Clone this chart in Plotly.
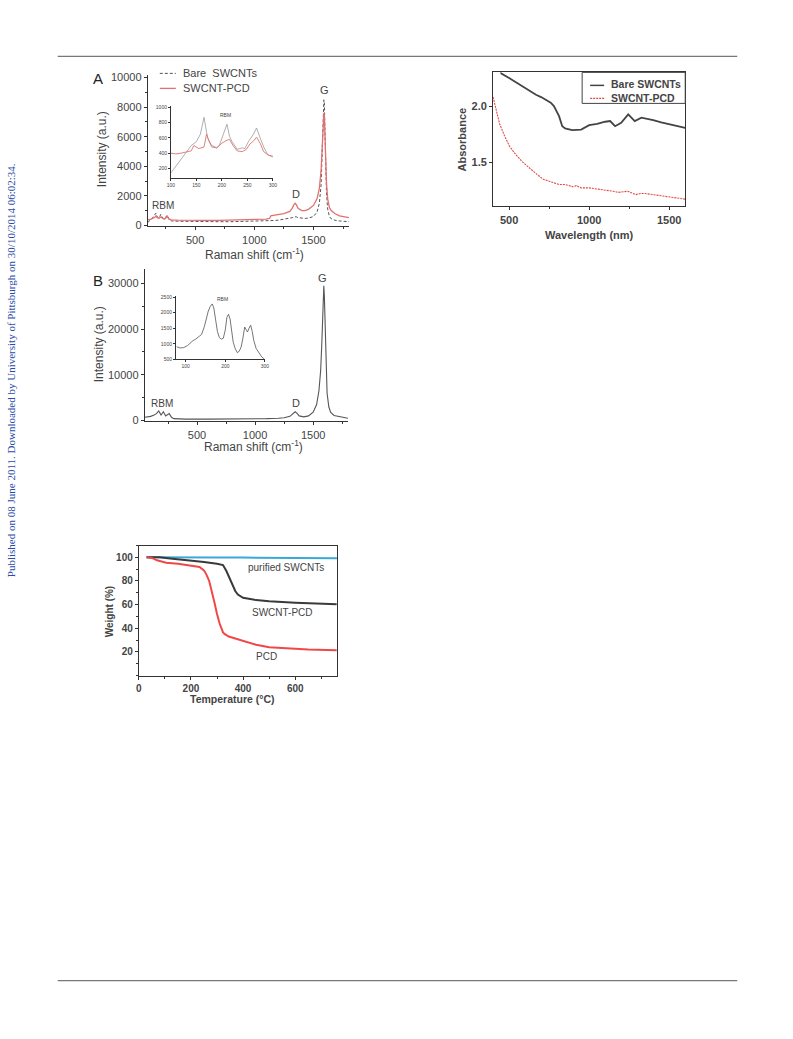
import plotly.graph_objects as go

W, H = 793, 1039

# ---------------- Panel A: Raman (bare vs SWCNT-PCD) ----------------
a_x = [100,120,140,160,170,180,195,210,225,240,255,265,280,300,350,400,500,600,700,800,900,
       1000,1050,1100,1130,1140,1160,1200,1250,1300,1320,1335,1345,1355,1370,1400,1430,1460,
       1500,1530,1550,1565,1575,1582,1588,1592,1597,1603,1610,1620,1635,1650,1680,1720,1760,1800]
a_bare = [200,350,500,750,820,550,500,750,500,450,600,700,400,300,280,270,260,250,250,250,260,
          270,280,300,310,320,330,350,400,460,520,580,600,580,520,480,470,500,
          600,900,1500,2800,4800,7000,8500,8300,6500,4000,2200,1100,600,450,350,300,280,250]
a_pcd = [380,400,480,550,650,520,480,570,480,420,520,600,420,370,350,340,340,340,340,350,360,
         380,400,430,480,650,680,720,800,950,1150,1400,1500,1400,1150,1000,1000,1100,
         1350,1800,2500,3800,5500,7000,7600,7400,6200,4300,2900,1800,1200,1000,800,650,580,520]

# Inset A (RBM region)
ia_x_bare = [100,110,120,130,140,150,158,165,172,180,190,195,205,210,215,220,230,240,245,252,262,268,275,282,290,300]
ia_bare = [140,230,320,420,500,550,650,870,600,480,470,500,700,780,620,550,450,470,460,550,650,730,600,480,380,350]
ia_x_pcd = [100,110,120,130,140,145,155,165,170,175,180,190,200,210,215,222,230,240,248,255,262,268,275,282,292,300]
ia_pcd = [400,390,400,410,430,500,460,480,650,560,500,470,530,570,580,500,430,420,450,520,560,610,530,420,370,360]

# ---------------- Absorbance panel ----------------
ab_x_bare = [440,452,500,523,550,600,650,668,700,760,780,812,832,850,894,950,1000,1050,1100,1131,
             1162,1200,1244,1285,1326,1350,1400,1450,1500,1550,1600]
ab_bare = [2.33,2.29,2.25,2.23,2.20,2.16,2.115,2.10,2.08,2.03,2.00,1.91,1.82,1.80,1.786,1.79,1.83,1.84,1.86,1.866,
           1.82,1.85,1.926,1.866,1.896,1.89,1.875,1.855,1.84,1.82,1.805]
ab_x_pcd = [400,420,441,470,503,540,585,650,709,750,812,850,880,900,920,950,1000,1050,1100,1150,
            1182,1240,1260,1290,1320,1350,1400,1450,1500,1550,1600]
ab_pcd = [2.08,1.97,1.84,1.74,1.64,1.57,1.50,1.42,1.35,1.33,1.30,1.30,1.29,1.28,1.29,1.27,1.27,1.26,1.255,1.24,
          1.23,1.24,1.23,1.21,1.22,1.22,1.21,1.20,1.19,1.18,1.17]

# ---------------- Panel B: Raman ----------------
b_x = [50,100,130,150,170,190,210,230,260,280,300,400,600,800,1000,1100,1200,1250,1300,1330,1345,1360,
       1380,1420,1460,1500,1530,1550,1565,1575,1582,1588,1592,1597,1603,1610,1620,1635,1650,1680,1720,1760,1800]
b_y = [700,900,1200,1500,2100,1200,1900,1000,1500,700,400,300,300,300,350,400,500,600,900,1600,1900,1600,
       1000,800,1000,1800,3500,6500,11000,17000,23000,28500,29500,27000,20000,12000,6000,3000,1800,1100,900,700,500]

ib_x = [77,85,95,105,118,125,135,140,147,152,157,162,167,171,175,180,185,190,195,200,204,208,212,216,
        220,225,230,235,240,244,249,253,256,260,264,268,272,278,285,292,298]
ib_y = [910,870,880,950,1100,1150,1250,1300,1550,1800,2050,2200,2280,2150,1800,1400,1200,1150,1180,1450,1850,1950,1800,1400,
        1050,850,720,760,900,1150,1540,1450,1380,1500,1600,1400,1100,850,700,580,520]

# ---------------- TGA panel ----------------
t_x_swnt = [30,100,200,300,400,500,600,700,760]
t_swnt = [100,100.1,100,99.9,99.8,99.7,99.6,99.4,99.3]
t_x_comp = [30,80,120,200,233,250,300,323,336,350,362,370,380,390,400,450,500,600,700,759]
t_comp = [100,100,99,97.5,96.9,96,94.5,93.5,88.4,82,75.7,71.5,68.5,66.8,65.8,63.8,62.8,61.6,61,60.3]
t_x_pcd = [30,50,70,105,150,182,233,250,259,270,280,290,300,310,323,330,345,370,400,450,500,567,650,759]
t_pcd = [100,99.5,97.5,95.5,94.5,93.5,91.8,89,85.6,80,72,62,52,44,36.5,35,33,31.2,29,26,24,22.9,22,21.3]

FONT = "Liberation Sans, Arial, sans-serif"
AX = "#333333"

# compensation of the slight shrink seen in the rendered page
KX, KY = 1.011, 1.009
CX, CY = 396.5, 519.5

def fx(p):
    return (CX + (p - CX) * KX) / W

def fy(p):
    return 1 - (CY + (p - CY) * KY) / H

def axis(domain, rng, **kw):
    d = dict(domain=domain, range=rng, showline=True, linecolor=AX, linewidth=1,
             ticks="outside", ticklen=3, tickcolor=AX, tickwidth=1,
             showgrid=False, zeroline=False, tickformat="d",
             tickfont=dict(family=FONT, size=11, color="#444"))
    d.update(kw)
    return d

fig = go.Figure()

# Panel A
fig.add_trace(go.Scatter(x=a_x, y=a_bare, mode="lines", line=dict(color="#555", width=1, dash="3px,2px"),
                         xaxis="x", yaxis="y", showlegend=False))
fig.add_trace(go.Scatter(x=a_x, y=a_pcd, mode="lines", line=dict(color="#e37070", width=1.3),
                         xaxis="x", yaxis="y", showlegend=False))
fig.add_trace(go.Scatter(x=ia_x_bare, y=ia_bare, mode="lines", line=dict(color="#9a9a9a", width=0.8),
                         xaxis="x2", yaxis="y2", showlegend=False))
fig.add_trace(go.Scatter(x=ia_x_pcd, y=ia_pcd, mode="lines", line=dict(color="#e37070", width=0.9),
                         xaxis="x2", yaxis="y2", showlegend=False))
# Absorbance
fig.add_trace(go.Scatter(x=ab_x_bare, y=ab_bare, mode="lines", line=dict(color="#444", width=1.8),
                         xaxis="x3", yaxis="y3", showlegend=False))
fig.add_trace(go.Scatter(x=ab_x_pcd, y=ab_pcd, mode="lines", line=dict(color="#e04848", width=1.1, dash="2px,1px"),
                         xaxis="x3", yaxis="y3", showlegend=False))
# Panel B
fig.add_trace(go.Scatter(x=b_x, y=b_y, mode="lines", line=dict(color="#555", width=1.1),
                         xaxis="x4", yaxis="y4", showlegend=False))
fig.add_trace(go.Scatter(x=ib_x, y=ib_y, mode="lines", line=dict(color="#666", width=0.9),
                         xaxis="x5", yaxis="y5", showlegend=False))
# TGA
fig.add_trace(go.Scatter(x=t_x_swnt, y=t_swnt, mode="lines", line=dict(color="#3aa8d8", width=2),
                         xaxis="x6", yaxis="y6", showlegend=False))
fig.add_trace(go.Scatter(x=t_x_comp, y=t_comp, mode="lines", line=dict(color="#3a3a3a", width=2),
                         xaxis="x6", yaxis="y6", showlegend=False))
fig.add_trace(go.Scatter(x=t_x_pcd, y=t_pcd, mode="lines", line=dict(color="#f04848", width=2),
                         xaxis="x6", yaxis="y6", showlegend=False))

small = dict(family=FONT, size=5, color="#444")
boldf = dict(family=FONT, size=11, color="#444", weight="bold")
tgaf = dict(family=FONT, size=10, color="#444", weight="bold")

fig.update_layout(
    width=W, height=H, margin=dict(l=0, r=0, t=0, b=0),
    paper_bgcolor="white", plot_bgcolor="rgba(0,0,0,0)",
    xaxis=axis([fx(148), fx(349)], [100, 1800], anchor="y", dtick=500,
               minor=dict(dtick=250, ticks="outside", ticklen=2, tickcolor=AX)),
    yaxis=axis([fy(227), fy(76)], [-70, 10150], anchor="x", dtick=2000,
               minor=dict(dtick=1000, ticks="outside", ticklen=2, tickcolor=AX)),
    xaxis2=axis([fx(171), fx(273)], [100, 300], anchor="y2", dtick=50, ticklen=2,
                tickfont=small, linewidth=0.7),
    yaxis2=axis([fy(179), fy(107)], [69, 1013], anchor="x2", ticklen=2,
                tickfont=small, linewidth=0.7, tickvals=[200, 400, 600, 800, 1000]),
    xaxis3=axis([fx(493), fx(685)], [400, 1600], anchor="y3", dtick=500, mirror=True,
                tickfont=boldf, minor=dict(dtick=250, ticks="outside", ticklen=2, tickcolor=AX)),
    yaxis3=axis([fy(207), fy(73)], [1.105, 2.30], anchor="x3", tickvals=[1.5, 2.0],
                ticktext=["1.5", "2.0"], mirror=True, tickfont=boldf),
    xaxis4=axis([fx(145), fx(348)], [50, 1800], anchor="y4", dtick=500,
                minor=dict(dtick=250, ticks="outside", ticklen=2, tickcolor=AX)),
    yaxis4=axis([fy(422), fy(270)], [-220, 33060], anchor="x4", dtick=10000,
                minor=dict(dtick=5000, ticks="outside", ticklen=2, tickcolor=AX)),
    xaxis5=axis([fx(176), fx(265)], [75, 300], anchor="y5", ticklen=2,
                tickfont=small, linewidth=0.7, tickvals=[100, 200, 300]),
    yaxis5=axis([fy(360), fy(297)], [500, 2520], anchor="x5", ticklen=2,
                tickfont=small, linewidth=0.7, tickvals=[500, 1000, 1500, 2000, 2500]),
    xaxis6=axis([fx(139), fx(337)], [0, 760], anchor="y6", dtick=200, mirror=True,
                tickfont=tgaf, minor=dict(dtick=100, ticks="outside", ticklen=2, tickcolor=AX)),
    yaxis6=axis([fy(676), fy(546)], [0, 110], anchor="x6", mirror=True,
                tickfont=tgaf, tickvals=[20, 40, 60, 80, 100],
                minor=dict(dtick=10, ticks="outside", ticklen=2, tickcolor=AX)),
)

ann = []
def txt(x, y, s, size=11, xref="paper", yref="paper", color="#444", bold=False, angle=0,
        xanchor="center", yanchor="middle", family=FONT):
    ann.append(dict(x=x, y=y, xref=xref, yref=yref, text=s, showarrow=False, textangle=angle,
                    xanchor=xanchor, yanchor=yanchor,
                    font=dict(family=family, size=size, color=color,
                              weight="bold" if bold else "normal")))

# Panel A texts
txt(fx(98), fy(79), "A", size=15, color="#222")
txt(fx(103), fy(150), "Intensity (a.u.)", size=12, angle=-90)
txt(fx(255), fy(255), "Raman shift (cm<sup>-1</sup>)", size=12)
txt(226, 1350, "RBM", size=10, xref="x", yref="y")
txt(1354, 2100, "D", size=11, xref="x", yref="y")
txt(1592, 9160, "G", size=11, xref="x", yref="y")
txt(208, 905, "RBM", size=5, xref="x2", yref="y2")
txt(fx(181), fy(74), "Bare  SWCNTs", size=11, xanchor="left")
txt(fx(181), fy(89), "SWCNT-PCD", size=11, xanchor="left")

# Absorbance texts
txt(fx(462), fy(140), "Absorbance", size=11, bold=True, angle=-90)
txt(fx(589), fy(236), "Wavelength (nm)", size=11, bold=True)
txt(fx(609), fy(85), "Bare SWCNTs", size=10.5, bold=True, xanchor="left")
txt(fx(609), fy(99), "SWCNT-PCD", size=10.5, bold=True, xanchor="left")

# Panel B texts
txt(fx(98), fy(281), "B", size=15, color="#222")
txt(fx(100), fy(345), "Intensity (a.u.)", size=12, angle=-90)
txt(fx(254), fy(447), "Raman shift (cm<sup>-1</sup>)", size=12)
txt(197, 3720, "RBM", size=10, xref="x4", yref="y4")
txt(1352, 3720, "D", size=11, xref="x4", yref="y4")
txt(1584, 31100, "G", size=11, xref="x4", yref="y4")
txt(192, 2430, "RBM", size=5, xref="x5", yref="y5")

# TGA texts
txt(fx(110), fy(612), "Weight (%)", size=10, bold=True, angle=-90)
txt(fx(233), fy(699), "Temperature (°C)", size=10.5, bold=True)
txt(564, 91.5, "purified SWCNTs", size=10, xref="x6", yref="y6")
txt(552, 53.4, "SWCNT-PCD", size=10, xref="x6", yref="y6")
txt(491, 16, "PCD", size=10, xref="x6", yref="y6")

# Side watermark text
txt(fx(12), fy(371), "Published on 08 June 2011. Downloaded by University of Pittsburgh on 30/10/2014 06:02:34.",
    size=11, angle=-90, color="#2a49a8", family="Liberation Serif, Times New Roman, serif")

shapes = [
    dict(type="line", xref="paper", yref="paper", x0=fx(58), x1=fx(737), y0=fy(57), y1=fy(57),
         line=dict(color="#777", width=1.2)),
    dict(type="line", xref="paper", yref="paper", x0=fx(58), x1=fx(737), y0=fy(981), y1=fy(981),
         line=dict(color="#777", width=1.2)),
    # legend A symbols
    dict(type="line", xref="paper", yref="paper", x0=fx(160), x1=fx(176), y0=fy(74), y1=fy(74),
         line=dict(color="#555", width=1, dash="3px,2px")),
    dict(type="line", xref="paper", yref="paper", x0=fx(160), x1=fx(176), y0=fy(89), y1=fy(89),
         line=dict(color="#e37070", width=1.3)),
    # absorbance legend box and symbols
    dict(type="rect", xref="paper", yref="paper", x0=fx(582), x1=fx(685), y0=fy(73), y1=fy(104),
         line=dict(color="#444", width=1)),
    dict(type="line", xref="paper", yref="paper", x0=fx(590), x1=fx(604), y0=fy(86), y1=fy(86),
         line=dict(color="#444", width=1.5)),
    dict(type="line", xref="paper", yref="paper", x0=fx(590), x1=fx(604), y0=fy(99), y1=fy(99),
         line=dict(color="#e04848", width=1.2, dash="2px,1px")),
]

fig.update_layout(annotations=ann, shapes=shapes)
fig.write_html("out.html", config={"displayModeBar": False},
               post_script="document.body.style.margin='0';document.body.style.overflow='hidden';")
